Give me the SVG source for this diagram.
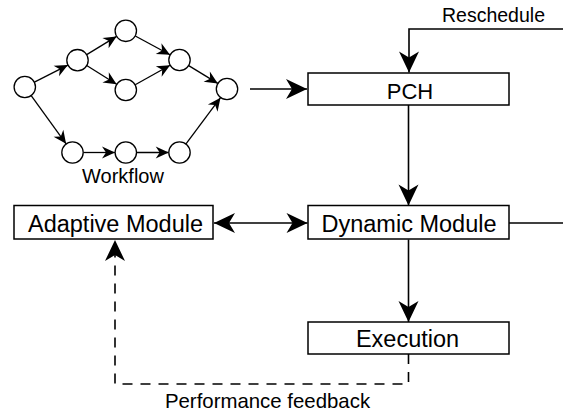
<svg xmlns="http://www.w3.org/2000/svg" width="563" height="417" viewBox="0 0 563 417">
<style>
text{font-family:"Liberation Sans",Arial,Helvetica,sans-serif;fill:#000;text-anchor:middle}
.lbl{font-size:23.5px}
.sm{font-size:20px}
.box{fill:#fff;stroke:#000;stroke-width:1.5}
.wc{fill:#fff;stroke:#000;stroke-width:1.3}
.ln{fill:none;stroke:#000;stroke-width:1.6}
.wl{fill:none;stroke:#000;stroke-width:1.3}
.dash{fill:none;stroke:#000;stroke-width:1.6;stroke-dasharray:10 8}
</style>
<defs>
<marker id="big" markerUnits="userSpaceOnUse" markerWidth="24" markerHeight="24" viewBox="-22 -12 24 24" refX="0" refY="0" orient="auto-start-reverse">
<path d="M0,0 L-21,-10 L-15,0 L-21,10 Z" fill="#000"/>
</marker>
<marker id="sm" markerUnits="userSpaceOnUse" markerWidth="16" markerHeight="16" viewBox="-15 -8 16 16" refX="0" refY="0" orient="auto">
<path d="M0,0 L-13,-6 L-9,0 L-13,6 Z" fill="#000"/>
</marker>
</defs>
<g id="connectors">
<line class="wl" x1="34.4" y1="82.1" x2="67.9" y2="65.1" marker-end="url(#sm)"/>
<line class="wl" x1="86.7" y1="54.6" x2="116.6" y2="36.4" marker-end="url(#sm)"/>
<line class="wl" x1="86.7" y1="65.5" x2="116.6" y2="84.3" marker-end="url(#sm)"/>
<line class="wl" x1="135.3" y1="36" x2="170" y2="54.8" marker-end="url(#sm)"/>
<line class="wl" x1="135.2" y1="84.7" x2="170.1" y2="65.3" marker-end="url(#sm)"/>
<line class="wl" x1="188.7" y1="65.6" x2="217.8" y2="83.4" marker-end="url(#sm)"/>
<line class="wl" x1="31.2" y1="95.7" x2="66.1" y2="143.8" marker-end="url(#sm)"/>
<line class="wl" x1="83.3" y1="152.5" x2="115" y2="152.5" marker-end="url(#sm)"/>
<line class="wl" x1="136.6" y1="152.5" x2="168.7" y2="152.5" marker-end="url(#sm)"/>
<line class="wl" x1="186" y1="143.9" x2="220.5" y2="97.7" marker-end="url(#sm)"/>
<line class="ln" x1="250" y1="89" x2="307" y2="89" marker-end="url(#big)"/>
<polyline class="ln" points="563,29 409,29 409,72.5" marker-end="url(#big)"/>
<line class="ln" x1="408.5" y1="105" x2="408.5" y2="205.5" marker-end="url(#big)"/>
<line class="ln" x1="214" y1="223" x2="307.5" y2="223" marker-start="url(#big)" marker-end="url(#big)"/>
<line class="ln" x1="509" y1="223" x2="563" y2="223"/>
<line class="ln" x1="408.5" y1="239.5" x2="408.5" y2="322" marker-end="url(#big)"/>
<polyline class="dash" points="408.5,354 408.5,384 115,384 115,240" marker-end="url(#big)"/>
</g>
<g id="workflow">
<circle class="wc" cx="24.8" cy="87" r="10.7"/>
<circle class="wc" cx="77.5" cy="60.2" r="10.7"/>
<circle class="wc" cx="125.8" cy="30.8" r="10.7"/>
<circle class="wc" cx="125.8" cy="90" r="10.7"/>
<circle class="wc" cx="179.5" cy="60" r="10.7"/>
<circle class="wc" cx="227" cy="89" r="10.7"/>
<circle class="wc" cx="72.5" cy="152.5" r="10.7"/>
<circle class="wc" cx="125.8" cy="152.5" r="10.7"/>
<circle class="wc" cx="179.5" cy="152.5" r="10.7"/>
<text class="sm" x="123" y="183">Workflow</text>
</g>
<g id="pch">
<rect class="box" x="308" y="73" width="201" height="32"/>
<text class="lbl" x="410" y="99" style="font-size:22px">PCH</text>
</g>
<g id="dynamic">
<rect class="box" x="308" y="205.5" width="201" height="33.5"/>
<text class="lbl" x="409" y="232">Dynamic Module</text>
</g>
<g id="adaptive">
<rect class="box" x="14" y="205.5" width="199" height="33.5"/>
<text class="lbl" x="115.5" y="232">Adaptive Module</text>
</g>
<g id="execution">
<rect class="box" x="308" y="322" width="201" height="32"/>
<text class="lbl" x="407.5" y="346.5">Execution</text>
</g>
<g id="labels">
<text class="sm" x="493.5" y="21.7" style="font-size:19.5px">Reschedule</text>
<text class="sm" x="267.5" y="408" style="font-size:20.4px">Performance feedback</text>
</g>
</svg>
